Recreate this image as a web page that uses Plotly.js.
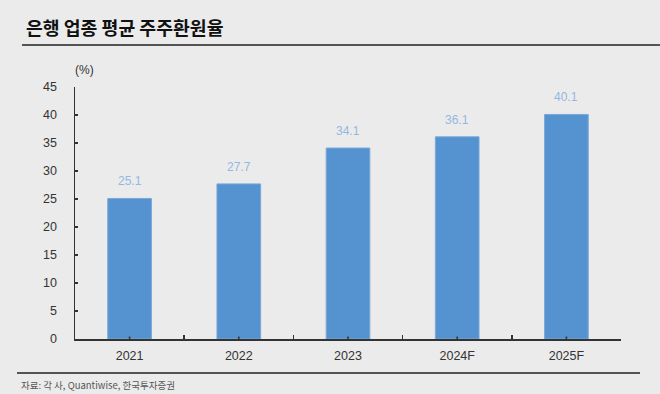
<!DOCTYPE html>
<html>
<head>
<meta charset="utf-8">
<script src="https://cdn.plot.ly/plotly-3.0.1.min.js"></script>
<style>
html,body{margin:0;padding:0;background:#ebebeb;}
#chart{width:660px;height:394px;}
</style>
</head>
<body>
<div id="chart"></div>
<script>
const categories = ["2021", "2022", "2023", "2024F", "2025F"];
const payoutRatio = [25.1, 27.7, 34.1, 36.1, 40.1];
const yTicks = [0, 5, 10, 15, 20, 25, 30, 35, 40, 45];

const trace = {
  type: "bar",
  x: categories,
  y: payoutRatio,
  width: 0.4,
  marker: {color: "#5592d0", line: {color: "#7aa9da", width: 1}},
  text: payoutRatio.map(v => v.toFixed(1)),
  textposition: "none",
  hoverinfo: "none"
};

const layout = {
  width: 660, height: 394,
  paper_bgcolor: "#ebebeb",
  plot_bgcolor: "#ebebeb",
  margin: {l: 75, r: 39, t: 87, b: 55},
  showlegend: false,
  font: {family: "Liberation Sans, Arial, sans-serif", color: "#333"},
  xaxis: {
    type: "category",
    categoryarray: categories, categoryorder: "array",
    showline: true, linecolor: "#333", linewidth: 1.5,
    ticks: "inside", ticklen: 4, tickwidth: 1.5, tickcolor: "#333",
    tickson: "boundaries",
    showgrid: false, zeroline: false,
    tickfont: {size: 12.5, color: "#333"},
    ticklabelstandoff: 4,
    fixedrange: true
  },
  yaxis: {
    type: "linear",
    range: [0, 45],
    tickvals: yTicks,
    ticktext: yTicks.map(String),
    showline: true, linecolor: "#333", linewidth: 1.5,
    ticks: "inside", ticklen: 3, tickwidth: 1.5, tickcolor: "#333",
    showgrid: false, zeroline: false,
    tickfont: {size: 12.5, color: "#333"},
    ticklabelstandoff: 14,
    fixedrange: true
  },
  annotations: [],
  shapes: [
    {type: "line", xref: "paper", yref: "paper", x0: -53/546, x1: 585/546, y0: (339-45)/252, y1: (339-45)/252,
     line: {color: "#222", width: 1.5}},
    {type: "line", xref: "paper", yref: "paper", x0: -58/546, x1: 565/546, y0: (339-373)/252, y1: (339-373)/252,
     line: {color: "#222", width: 1.5}}
  ]
};

// data labels and small centre ticks
categories.forEach((c, i) => {
  layout.annotations.push({
    x: i, y: payoutRatio[i], xref: "x", yref: "y",
    text: payoutRatio[i].toFixed(1), showarrow: false,
    yanchor: "bottom", yshift: 8,
    font: {family: "Liberation Sans, Arial, sans-serif", size: 12, color: "#93b8e0"}
  });
  layout.shapes.push({
    type: "line", xref: "x", yref: "paper", x0: i, x1: i, y0: 0, y1: 2.5/252,
    line: {color: "#333", width: 1.5}, layer: "above"
  });
});

layout.annotations.push({
  xref: "paper", yref: "paper", x: 9/546, y: (339-70)/252, xanchor: "center", yanchor: "middle",
  text: "(%)", showarrow: false, font: {size: 12, color: "#333"}
});
layout.annotations.push({
  xref: "paper", yref: "paper", x: -51/546, y: (339-27)/252, xanchor: "left", yanchor: "middle",
  text: "<b>은행 업종 평균 주주환원율</b>", showarrow: false,
  font: {family: "Noto Sans CJK KR, sans-serif", size: 18.3, color: "#111"}
});
layout.annotations.push({
  xref: "paper", yref: "paper", x: -56/546, y: (339-385)/252, xanchor: "left", yanchor: "middle",
  text: "자료: 각 사, Quantiwise, 한국투자증권", showarrow: false,
  font: {family: "Noto Sans CJK KR, sans-serif", size: 9.5, color: "#555"}
});

Plotly.newPlot("chart", [trace], layout, {displayModeBar: false, staticPlot: true});
</script>
</body>
</html>
